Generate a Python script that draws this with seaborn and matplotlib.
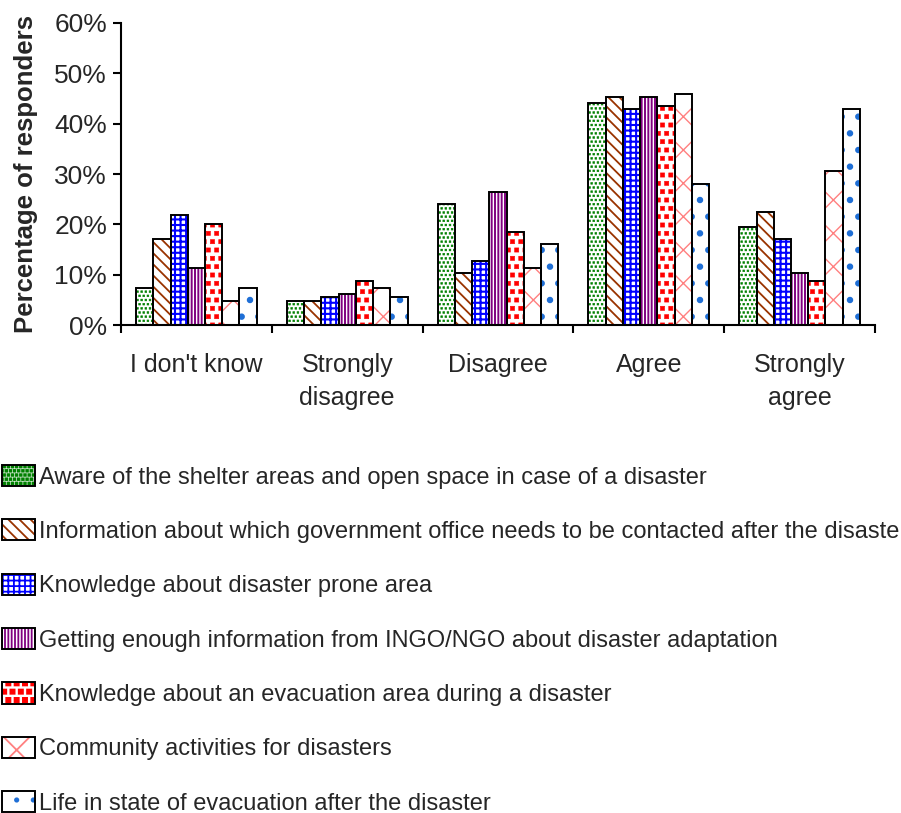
import matplotlib
matplotlib.use("Agg")
import matplotlib.pyplot as plt
import matplotlib.patches as mpatches
import matplotlib.hatch as mhatch
from matplotlib.path import Path
from matplotlib.legend_handler import HandlerTuple
from matplotlib.ticker import FixedLocator, FuncFormatter
import numpy as np
import seaborn as sns
import pandas as pd

# Survey answer categories (x axis)
categories = ["I don't know", "Strongly\ndisagree", "Disagree", "Agree", "Strongly\nagree"]

# Statements (one bar series each)
statements = [
    "Aware of the shelter areas and open space in case of a disaster",
    "Information about which government office needs to be contacted after the disaster",
    "Knowledge about disaster prone area",
    "Getting enough information from INGO/NGO about disaster adaptation",
    "Knowledge about an evacuation area during a disaster",
    "Community activities for disasters",
    "Life in state of evacuation after the disaster",
]

# Percentage of responders per answer category, one list per statement
shelter_areas = [7.3, 4.7, 24.1, 44.2, 19.4]
government_office = [17.1, 4.7, 10.4, 45.3, 22.4]
prone_area = [21.8, 5.6, 12.7, 42.9, 17.0]
ngo_information = [11.3, 6.2, 26.4, 45.3, 10.4]
evacuation_area = [20.1, 8.7, 18.4, 43.5, 8.7]
community_activities = [4.7, 7.3, 11.3, 45.9, 30.5]
evacuation_life = [7.3, 5.6, 16.0, 28.1, 42.9]

series_values = [shelter_areas, government_office, prone_area, ngo_information,
                 evacuation_area, community_activities, evacuation_life]

y_ticks = [0, 10, 20, 30, 40, 50, 60]


# Filled-square hatch patterns (small dense squares for 'O', larger ones for '*')
def _square_pattern(char, square_size):
    class SquareDots(mhatch.Shapes):
        filled = True
        size = square_size

        def __init__(self, hatch, density):
            self.num_rows = int(hatch.count(char) * density)
            self.shape_vertices = np.array([[-0.5, -0.5], [0.5, -0.5], [0.5, 0.5],
                                            [-0.5, 0.5], [-0.5, -0.5]])
            self.shape_codes = np.array([Path.MOVETO, Path.LINETO, Path.LINETO,
                                         Path.LINETO, Path.CLOSEPOLY], dtype=Path.code_type)
            super().__init__(hatch, density)
    return SquareDots


mhatch._hatch_types = [t for t in mhatch._hatch_types
                       if t not in (mhatch.LargeCircles, mhatch.Stars)]
mhatch._hatch_types += [_square_pattern("O", 0.42), _square_pattern("*", 0.5)]

# Pattern styles for each statement
hatch_colors = ["#008000", "#993300", "#0000ff", "#800080", "#ff0000", "#ff8080", "#1f6fd6"]
hatches = ["OOOO", "\\\\\\", "+++", "|||||", "**", "x", "."]
hatch_widths = [0.4, 1.3, 1.5, 1.4, 0.4, 1.0, 2.2]

rows = []
for stmt, vals in zip(statements, series_values):
    for cat, v in zip(categories, vals):
        rows.append({"category": cat, "statement": stmt, "value": v})
df = pd.DataFrame(rows)

sns.set_style("ticks")
plt.rcParams["font.family"] = ["Liberation Sans", "DejaVu Sans"]
plt.rcParams["font.size"] = 17
plt.rcParams["hatch.linewidth"] = 1.3

fig = plt.figure(figsize=(9.01, 8.13), dpi=100)
ax = fig.add_axes([121 / 901, 1 - 325 / 813, (875 - 121) / 901, (325 - 23) / 813])

sns.barplot(data=df, x="category", y="value", hue="statement",
            order=categories, hue_order=statements,
            palette=["white"] * len(statements), width=0.8, gap=0,
            legend=False, ax=ax, errorbar=None, saturation=1)

for container, col, h, hw in zip(ax.containers, hatch_colors, hatches, hatch_widths):
    for bar in container:
        bar.set_facecolor("white")
        bar.set_edgecolor(col)
        bar.set_hatch(h)
        bar.set_linewidth(0)
        if hasattr(bar, "set_hatch_linewidth"):
            bar.set_hatch_linewidth(hw)
        ax.add_patch(mpatches.Rectangle((bar.get_x(), bar.get_y()), bar.get_width(),
                                        bar.get_height(), fill=False,
                                        edgecolor="black", linewidth=1.4, zorder=3))

ax.set_xlim(-0.5, len(categories) - 0.5)
ax.set_ylim(0, 60)
ax.yaxis.set_major_locator(FixedLocator(y_ticks))
ax.yaxis.set_major_formatter(FuncFormatter(lambda v, p: f"{v:.0f}%"))
ax.xaxis.set_minor_locator(FixedLocator([i - 0.5 for i in range(len(categories) + 1)]))
ax.tick_params(axis="x", which="major", length=0, pad=20, labelsize=18)
ax.tick_params(axis="x", which="minor", length=6, width=1.5, color="black")
ax.tick_params(axis="y", length=6, width=1.5, pad=4, labelsize=19, color="black")
for s in ["top", "right"]:
    ax.spines[s].set_visible(False)
for s in ["left", "bottom"]:
    ax.spines[s].set_linewidth(1.5)
    ax.spines[s].set_color("black")
ax.set_xlabel("")
ax.set_ylabel("Percentage of responders", fontweight="bold", fontsize=18.5, labelpad=12)
for lab in ax.get_xticklabels():
    lab.set_linespacing(1.5)

handles = []
for col, h, hw in zip(hatch_colors, hatches, hatch_widths):
    p = mpatches.Patch(facecolor="white", edgecolor=col, hatch=h, linewidth=0)
    if hasattr(p, "set_hatch_linewidth"):
        p.set_hatch_linewidth(hw)
    o = mpatches.Patch(fill=False, edgecolor="black", linewidth=1.4)
    handles.append((p, o))

fig.legend(handles, statements, loc="upper left", bbox_to_anchor=(2 / 901, 1 - 465 / 813),
           frameon=False, borderpad=0, borderaxespad=0, handlelength=1.4,
           handleheight=1.0, handletextpad=0.15, labelspacing=1.30, fontsize=17,
           handler_map={tuple: HandlerTuple(ndivide=1, pad=0)})

fig.savefig("out.png", dpi=100)
